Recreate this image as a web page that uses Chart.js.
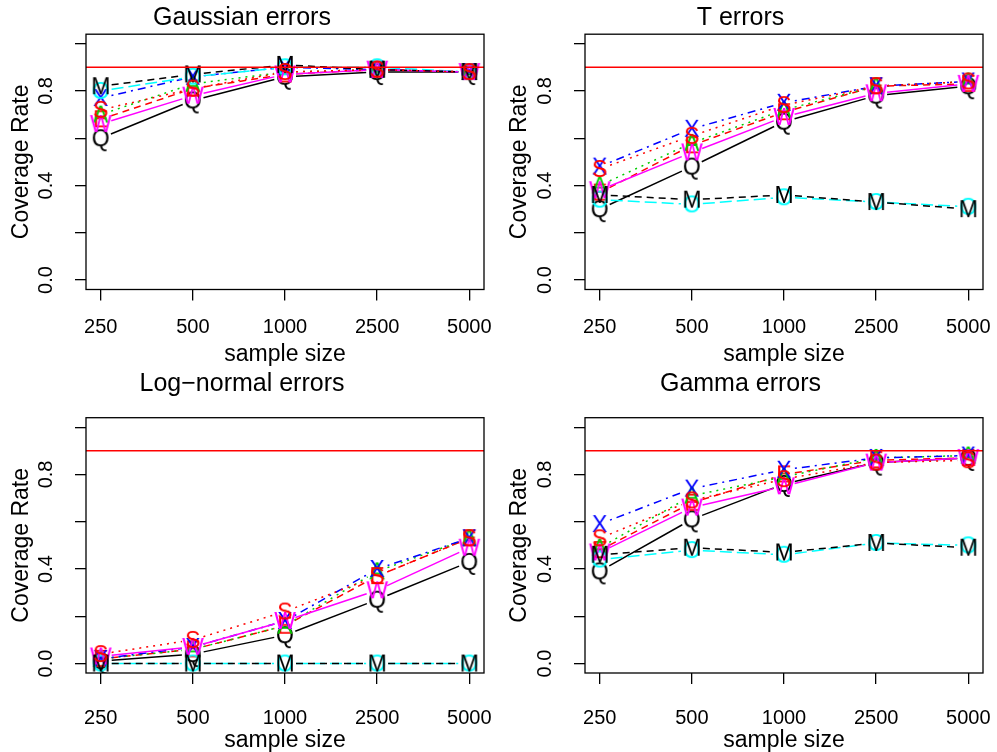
<!DOCTYPE html>
<html>
<head>
<meta charset="utf-8">
<script src="https://cdn.jsdelivr.net/npm/chart.js@4.4.0/dist/chart.umd.min.js"></script>
<style>
body { margin: 0; background: #fff; }
#wrap { position: relative; width: 997px; height: 752px; overflow: hidden; }
canvas { position: absolute; }
</style>
</head>
<body>
<div id="wrap">
  <canvas id="gaussian"></canvas>
  <canvas id="terr"></canvas>
  <canvas id="lognormal"></canvas>
  <canvas id="gamma"></canvas>
</div>
<script>
// tick labels
var sampleSizes = ['250', '500', '1000', '2500', '5000'];
var yTickValues = [0, 0.2, 0.4, 0.6, 0.8, 1.0];
var yTickLabels = ['0.0', '', '0.4', '', '0.8', ''];
var nominalLevel = 0.9;

// one entry per method, in the order R drew them
var methods = ['Q', 'E', 'A', 'X', 'O', 'W', 'M', 'S'];
var colors  = ['#000000', '#FF0000', '#00CD00', '#0000FF', '#00FFFF', '#FF00FF', '#000000', '#FF0000'];
var dashes  = [[], [7, 5], [2, 5], [2, 5, 8, 5], [12, 5], [], [7, 5], [2, 5]];

// coverage rates
var gaussian = {
  Q: [0.60, 0.76, 0.86, 0.88, 0.88],
  E: [0.68, 0.81, 0.87, 0.89, 0.88],
  A: [0.70, 0.83, 0.88, 0.89, 0.88],
  X: [0.77, 0.86, 0.90, 0.89, 0.88],
  O: [0.80, 0.86, 0.90, 0.90, 0.88],
  W: [0.66, 0.78, 0.87, 0.89, 0.88],
  M: [0.82, 0.87, 0.91, 0.89, 0.88],
  S: [0.72, 0.81, 0.88, 0.89, 0.88]
};
var tErrors = {
  Q: [0.30, 0.48, 0.67, 0.78, 0.82],
  E: [0.37, 0.57, 0.71, 0.82, 0.83],
  A: [0.40, 0.58, 0.72, 0.82, 0.84],
  X: [0.48, 0.64, 0.75, 0.82, 0.84],
  O: [0.34, 0.32, 0.35, 0.33, 0.31],
  W: [0.38, 0.54, 0.69, 0.79, 0.83],
  M: [0.36, 0.34, 0.36, 0.33, 0.30],
  S: [0.47, 0.61, 0.74, 0.82, 0.84]
};
var logNormal = {
  Q: [0.01, 0.04, 0.12, 0.27, 0.43],
  E: [0.02, 0.06, 0.16, 0.37, 0.53],
  A: [0.02, 0.06, 0.16, 0.39, 0.53],
  X: [0.02, 0.07, 0.18, 0.40, 0.53],
  O: [0.00, 0.00, 0.00, 0.00, 0.00],
  W: [0.03, 0.07, 0.18, 0.31, 0.49],
  M: [0.00, 0.00, 0.00, 0.00, 0.00],
  S: [0.04, 0.10, 0.22, 0.37, 0.53]
};
var gammaErr = {
  Q: [0.39, 0.61, 0.76, 0.85, 0.87],
  E: [0.48, 0.68, 0.80, 0.86, 0.87],
  A: [0.49, 0.71, 0.79, 0.87, 0.88],
  X: [0.59, 0.74, 0.82, 0.87, 0.88],
  O: [0.44, 0.48, 0.46, 0.51, 0.50],
  W: [0.47, 0.66, 0.75, 0.85, 0.87],
  M: [0.46, 0.49, 0.47, 0.51, 0.49],
  S: [0.53, 0.69, 0.78, 0.85, 0.86]
};

var panels = [
  { id: 'gaussian',  title: 'Gaussian errors',        rates: gaussian,  left: 0,   top: 0,   w: 498, h: 376, yW: 86, xH: 86.5, tPad: { top: 3, bottom: 1.2 },   tickPad: 15, xTitlePad: 8 },
  { id: 'terr',      title: 'T errors',               rates: tErrors,   left: 498, top: 0,   w: 499, h: 376, yW: 87, xH: 86.5, tPad: { top: 3, bottom: 1.2 },   tickPad: 15, xTitlePad: 8 },
  { id: 'lognormal', title: 'Log\u2212normal errors', rates: logNormal, left: 0,   top: 366, w: 498, h: 392, yW: 86, xH: 85,   tPad: { top: 3.6, bottom: 18.1 }, tickPad: 22, xTitlePad: 4 },
  { id: 'gamma',     title: 'Gamma errors',           rates: gammaErr,  left: 498, top: 366, w: 499, h: 392, yW: 87, xH: 85,   tPad: { top: 3.6, bottom: 18.1 }, tickPad: 22, xTitlePad: 4 }
];

var FONT = '"Liberation Sans", Arial, Helvetica, sans-serif';
var GAP = 11; // R type = "b": lines stop short of the symbols
Chart.defaults.font.family = FONT;
Chart.defaults.color = '#000';

// letters used as plotting symbols, like pch = "Q"
function letterSymbol(ch, color) {
  var c = document.createElement('canvas');
  c.width = 32; c.height = 32;
  var g = c.getContext('2d');
  g.font = '23px ' + FONT;
  g.fillStyle = color;
  g.textAlign = 'center';
  g.textBaseline = 'alphabetic';
  g.fillText(ch, 16, 24.3);
  return c;
}

// connecting segments with gaps, drawn from the points Chart.js placed
var gapLines = {
  id: 'gapLines',
  beforeDatasetDraw: function(chart, args) {
    var ctx = chart.ctx, a = chart.chartArea;
    var ds = chart.data.datasets[args.index];
    var pts = args.meta.data;
    ctx.save();
    ctx.beginPath();
    ctx.rect(a.left, a.top, a.right - a.left, a.bottom - a.top);
    ctx.clip();
    ctx.strokeStyle = ds.borderColor;
    ctx.lineWidth = ds.borderWidth;
    ctx.setLineDash(ds.borderDash);
    for (var i = 0; i < pts.length - 1; i++) {
      var x0 = pts[i].x, y0 = pts[i].y, x1 = pts[i + 1].x, y1 = pts[i + 1].y;
      var len = Math.hypot(x1 - x0, y1 - y0);
      if (len <= 2 * GAP) continue;
      var ux = (x1 - x0) / len, uy = (y1 - y0) / len;
      ctx.beginPath();
      ctx.moveTo(x0 + ux * GAP, y0 + uy * GAP);
      ctx.lineTo(x1 - ux * GAP, y1 - uy * GAP);
      ctx.stroke();
    }
    ctx.restore();
  }
};

var boxPlugin = {
  id: 'rbox',
  afterDatasetsDraw: function(chart) {
    var ctx = chart.ctx, a = chart.chartArea, y = chart.scales.y;
    ctx.save();
    ctx.beginPath();
    ctx.rect(a.left, a.top, a.right - a.left, a.bottom - a.top);
    ctx.clip();
    var py = y.getPixelForValue(nominalLevel);
    ctx.strokeStyle = '#FF0000';
    ctx.lineWidth = 1.5;
    ctx.beginPath();
    ctx.moveTo(a.left, py);
    ctx.lineTo(a.right, py);
    ctx.stroke();
    ctx.restore();
  },
  afterDraw: function(chart) {
    var ctx = chart.ctx, a = chart.chartArea, y = chart.scales.y;
    ctx.save();
    ctx.strokeStyle = '#000';
    ctx.lineWidth = 1.3;
    ctx.strokeRect(a.left, a.top, a.right - a.left, a.bottom - a.top);
    ctx.font = '20px ' + FONT;
    ctx.fillStyle = '#000';
    ctx.textAlign = 'center';
    ctx.textBaseline = 'middle';
    yTickValues.forEach(function(v, i) {
      if (!yTickLabels[i]) return;
      ctx.save();
      ctx.translate(a.left - 40, y.getPixelForValue(v));
      ctx.rotate(-Math.PI / 2);
      ctx.fillText(yTickLabels[i], 0, 0);
      ctx.restore();
    });
    ctx.restore();
  }
};

panels.forEach(function(p) {
  var cv = document.getElementById(p.id);
  cv.width = p.w; cv.height = p.h;
  cv.style.left = p.left + 'px'; cv.style.top = p.top + 'px';

  var datasets = methods.map(function(m, i) {
    return {
      label: m,
      data: p.rates[m].map(function(v, k) { return { x: k + 1, y: v }; }),
      borderColor: colors[i],
      backgroundColor: colors[i],
      borderWidth: 1.5,
      borderDash: dashes[i],
      showLine: false,
      pointStyle: letterSymbol(m, colors[i]),
      pointRadius: 10,
      order: -i
    };
  });

  new Chart(cv, {
    type: 'line',
    data: { datasets: datasets },
    plugins: [gapLines, boxPlugin],
    options: {
      responsive: false,
      devicePixelRatio: 1,
      animation: false,
      layout: { padding: { left: 0, right: 14, top: 0, bottom: 0 } },
      plugins: {
        legend: { display: false },
        tooltip: { enabled: false },
        title: {
          display: true, text: p.title, color: '#000',
          font: { size: 25, weight: 'normal', family: FONT },
          padding: p.tPad
        }
      },
      scales: {
        x: {
          type: 'linear', min: 0.84, max: 5.16,
          afterBuildTicks: function(s) { s.ticks = sampleSizes.map(function(_, k) { return { value: k + 1 }; }); },
          afterFit: function(s) { s.height = p.xH; s.paddingLeft = 0; s.paddingRight = 0; },
          ticks: {
            autoSkip: false, maxRotation: 0, minRotation: 0, padding: p.tickPad,
            font: { size: 20 }, color: '#000',
            callback: function(v) { return sampleSizes[v - 1]; }
          },
          grid: { drawOnChartArea: false, drawTicks: true, tickLength: 11, color: '#000', lineWidth: 1.3 },
          border: { display: false },
          title: { display: true, text: 'sample size', font: { size: 23 }, color: '#000', padding: { top: 0, bottom: p.xTitlePad } }
        },
        y: {
          min: -0.04, max: 1.04,
          afterBuildTicks: function(s) { s.ticks = yTickValues.map(function(v) { return { value: v }; }); },
          afterFit: function(s) { s.width = p.yW; s.paddingTop = 0; s.paddingBottom = 0; },
          ticks: { display: false },
          grid: { drawOnChartArea: false, drawTicks: true, tickLength: 11, color: '#000', lineWidth: 1.3 },
          border: { display: false },
          title: { display: true, text: 'Coverage Rate', font: { size: 23 }, color: '#000', padding: { top: 8, bottom: 0 } }
        }
      }
    }
  });
});
</script>
</body>
</html>
